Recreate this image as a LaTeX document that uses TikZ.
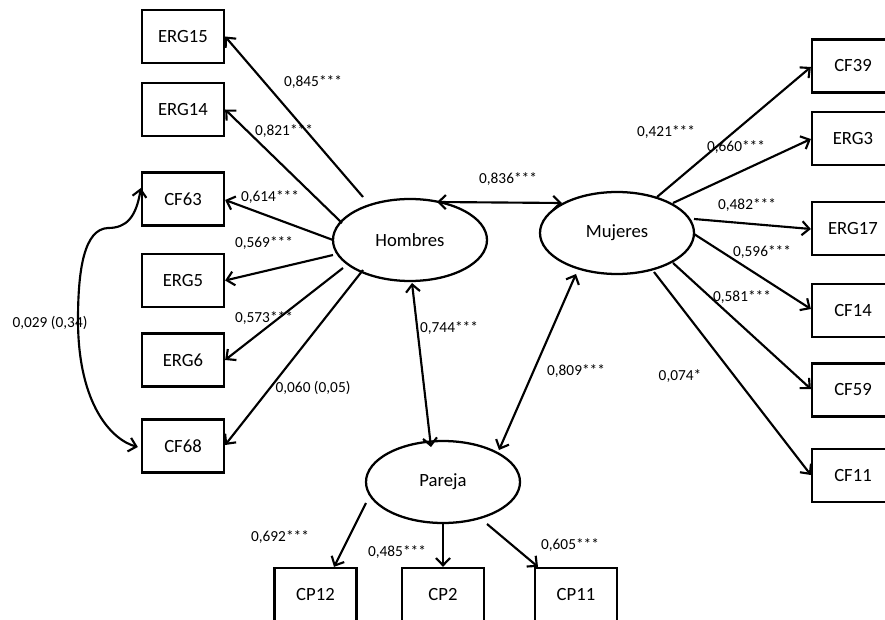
\documentclass[tikz,border=0pt]{standalone}
\usepackage{fontspec}
\setmainfont{Carlito}
\usetikzlibrary{arrows.meta,calc,shapes.geometric}
\begin{document}
\begin{tikzpicture}[x=0.75pt,y=-0.75pt,
  box/.style={draw,line width=1.7pt,minimum width=61.5pt,minimum height=39.75pt,inner sep=0pt,font=\fontsize{14}{16}\selectfont},
  lat/.style={draw,ellipse,line width=1.7pt,minimum width=115.5pt,minimum height=61.5pt,inner sep=0pt,font=\fontsize{14}{16}\selectfont},
  lbl/.style={inner sep=0pt,font=\fontsize{11.5}{13}\selectfont},
  conn/.style={line width=1.6pt,-{Straight Barb[length=5.5pt,width=10.5pt,line width=1.6pt]}},
  biconn/.style={line width=1.6pt,{Straight Barb[length=5.5pt,width=10.5pt,line width=1.6pt]}-{Straight Barb[length=5.5pt,width=10.5pt,line width=1.6pt]}}]
\useasboundingbox (0,0) rectangle (885,620);
\fill[white] (0,0) rectangle (885,620);
% latent variables
\node[lat] (H) at (410,240) {Hombres};
\node[lat] (M) at (617,233) {Mujeres};
\node[lat] (P) at (443,482) {Pareja};
% left indicators
\node[box] (ERG15) at (183,36.5) {ERG15};
\node[box] (ERG14) at (183,109.5) {ERG14};
\node[box] (CF63) at (183,199) {CF63};
\node[box] (ERG5) at (183,280.5) {ERG5};
\node[box] (ERG6) at (183,360) {ERG6};
\node[box] (CF68) at (183,446) {CF68};
% right indicators
\node[box] (CF39) at (853,66) {CF39};
\node[box] (ERG3) at (853,138.5) {ERG3};
\node[box] (ERG17) at (853,228.5) {ERG17};
\node[box] (CF14) at (853,310.5) {CF14};
\node[box] (CF59) at (853,390) {CF59};
\node[box] (CF11) at (853,475.5) {CF11};
% bottom indicators
\node[box] (CP12) at (315.5,594.5) {CP12};
\node[box] (CP2) at (443,594.5) {CP2};
\node[box] (CP11) at (576,594.5) {CP11};
% Hombres loadings
\draw[conn] ($(H.center)+(-47,-43)$) -- (ERG15.east);
\draw[conn] ($(H.center)+(-68,-17)$) -- (ERG14.east);
\draw[conn] ($(H.center)+(-77,0)$) -- ($(CF63.east)+(0,1)$);
\draw[conn] ($(H.center)+(-77,15)$) -- (ERG5.east);
\draw[conn] ($(H.center)+(-67,28)$) -- (ERG6.east);
\draw[conn] ($(H.center)+(-47,30)$) -- ($(CF68.east)+(0,-1)$);
% Mujeres loadings
\draw[conn] ($(M.center)+(40,-36)$) -- ($(CF39.west)+(0,1)$);
\draw[conn] ($(M.center)+(56,-30)$) -- ($(ERG3.west)+(0,0.5)$);
\draw[conn] ($(M.center)+(77,-14)$) -- ($(ERG17.west)+(0,0.5)$);
\draw[conn] ($(M.center)+(77,1)$) -- ($(CF14.west)+(0,-1.5)$);
\draw[conn] ($(M.center)+(56,30)$) -- ($(CF59.west)+(0,-1)$);
\draw[conn] ($(M.center)+(37,39)$) -- ($(CF11.west)+(0,-0.5)$);
% Pareja loadings
\draw[conn] ($(P.center)+(-77,21)$) -- ($(CP12.north)+(18.5,0)$);
\draw[conn] ($(P.center)+(0,41)$) -- (CP2.north);
\draw[conn] ($(P.center)+(44,42)$) -- ($(CP11.north)+(-38,0)$);
% covariances
\draw[biconn] ($(H.center)+(27,-38)$) -- ($(M.center)+(-55,-30)$);
\draw[biconn] ($(H.center)+(2,43)$) -- ($(P.center)+(-12,-35)$);
\draw[biconn] ($(M.center)+(-41,41)$) -- ($(P.center)+(56,-32)$);
\coordinate (c63) at ($(CF63.west)+(0,-11)$);
\coordinate (c68) at ($(CF68.west)+(-3,1)$);
\draw[biconn] (c63) .. controls (136,218) and (126,228) .. (108,228)
  .. controls (84,229) and (78,270) .. (78,320)
  .. controls (78,405) and (112,440) .. (c68);
% labels
\node[lbl] at (313,82) {0,845***};
\node[lbl] at (284,131) {0,821***};
\node[lbl] at (270,197) {0,614***};
\node[lbl] at (264,243) {0,569***};
\node[lbl] at (264,318) {0,573***};
\node[lbl] at (313,388) {0,060 (0,05)};
\node[lbl] at (50,323) {0,029 (0,34)};
\node[lbl] at (508,179) {0,836***};
\node[lbl] at (449,328) {0,744***};
\node[lbl] at (576,371) {0,809***};
\node[lbl] at (666,132) {0,421***};
\node[lbl] at (736,147) {0,660***};
\node[lbl] at (747,205) {0,482***};
\node[lbl] at (762,252) {0,596***};
\node[lbl] at (742,297) {0,581***};
\node[lbl] at (680,376) {0,074*};
\node[lbl] at (280,537) {0,692***};
\node[lbl] at (397,552) {0,485***};
\node[lbl] at (570,545) {0,605***};
\end{tikzpicture}
\end{document}
